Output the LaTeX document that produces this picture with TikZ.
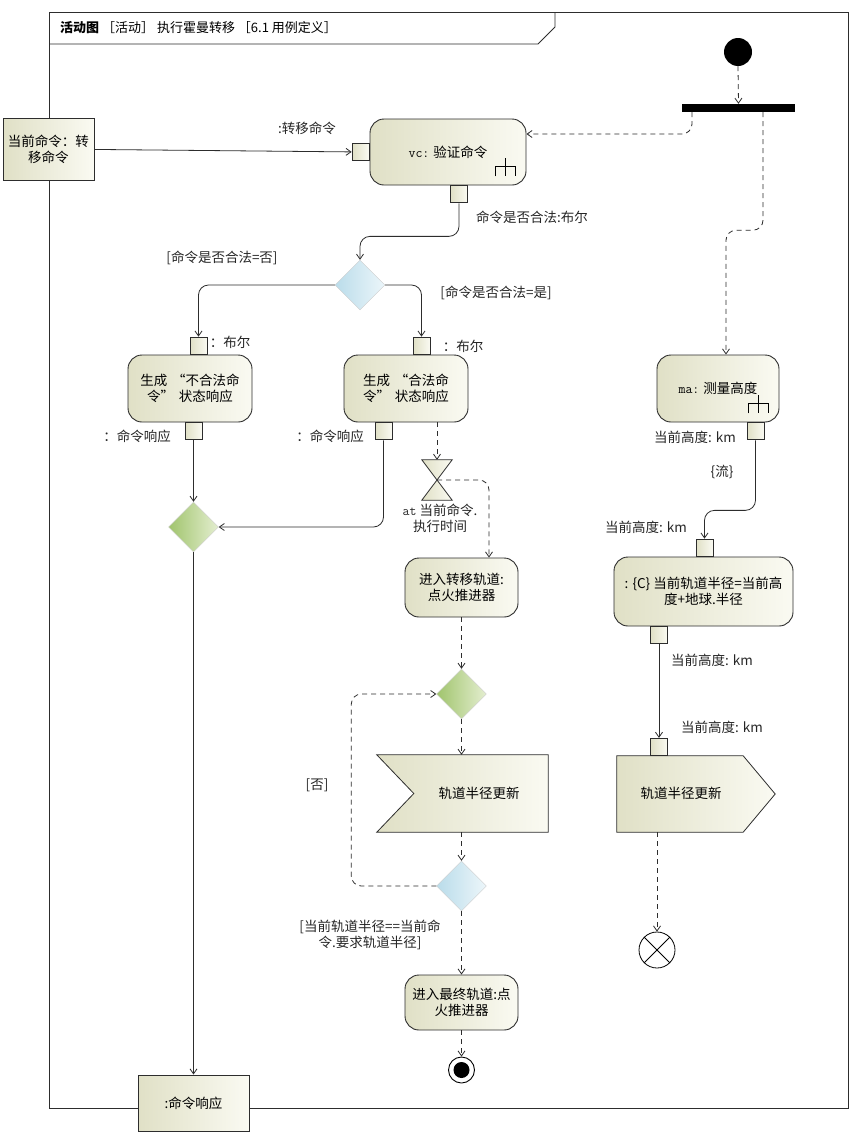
\documentclass[tikz,border=0pt]{standalone}
\usepackage{fontspec}
\setmainfont{Noto Sans CJK SC}
\usetikzlibrary{shapes.geometric, arrows.meta, positioning}
\definecolor{lineGray}{RGB}{45,45,45}
\definecolor{actDark}{RGB}{224,224,198}
\definecolor{actLight}{RGB}{250,250,242}
\definecolor{decDark}{RGB}{186,220,234}
\definecolor{decLight}{RGB}{236,246,250}
\definecolor{mrgDark}{RGB}{160,196,108}
\definecolor{mrgLight}{RGB}{228,238,208}
\tikzstyle{actBox} = [shape=rectangle, draw=lineGray, line width=0.9pt, align=center,
	rounded corners=14pt, left color=actDark, right color=actLight, inner sep=2pt]
\tikzstyle{paramBox} = [shape=rectangle, draw=lineGray, line width=0.9pt, align=center,
	left color=actDark, right color=actLight, inner sep=2pt]
\tikzstyle{pinBox} = [shape=rectangle, draw=lineGray, line width=0.9pt, inner sep=0pt,
	minimum size=17pt, left color=actDark, right color=actLight]
\tikzstyle{decBox} = [shape=diamond, draw=black!20, inner sep=0pt, minimum width=50pt,
	minimum height=50pt, left color=decDark, right color=decLight]
\tikzstyle{mrgBox} = [decBox, left color=mrgDark, right color=mrgLight]
\tikzstyle{normalArrow} = [line width=0.8pt, draw=lineGray, rounded corners=10pt,
	-{Straight Barb[length=5pt, width=7pt]}]
\tikzstyle{flowArrow} = [normalArrow, dash pattern=on 5pt off 4pt]
\tikzstyle{lbl} = [inner sep=1pt, align=center, text=black!85]
\newcommand{\rakeIn}[1]{%
  \draw [line width=0.8pt] ([shift={(-31,-9)}]#1.south east) -- ++(0,-10) -- ++(20,0) -- ++(0,10);
  \draw [line width=0.8pt] ([shift={(-21,-27)}]#1.south east) -- ++(0,18);}
\newcommand{\openQ}{\hspace{5pt}“}
\newcommand{\closeQ}{”\hspace{5pt}}

\begin{document}
\begin{tikzpicture}[x=1pt, y=-1pt, font=\fontsize{13.5}{16}\selectfont]
  \useasboundingbox [fill=white] (0,0) rectangle (853,1138);
  % frame and title tab
  \draw [line width=0.9pt, draw=lineGray] (49,12) rectangle (848,1108);
  \draw [line width=0.9pt, draw=lineGray] (49,44) -- (538,44) -- (555,27) -- (555,12);
  \node (title) [anchor=west, inner sep=0pt, font=\fontsize{13}{15}\selectfont] at (60,28) {\textbf{活动图} ［活动］ 执行霍曼转移 ［6.1 用例定义］};

  % parameters
  \node (curCmd) [paramBox, minimum width=91pt, minimum height=62pt] at (48.5,149) {当前命令：转\\移命令};
  \node (cmdResp) [paramBox, minimum width=111pt, minimum height=56pt] at (193.5,1103) {:命令响应};

  % validate command
  \node (vc) [actBox, minimum width=156pt, minimum height=66pt] at (448,152) {\texttt{vc:} 验证命令};
  \rakeIn{vc}
  \node (vcIn) [pinBox, left=0pt of vc] {};
  \node (vcOut) [pinBox, below=0pt of vc, xshift=11pt] {};
  \node (lblTrans) [lbl] at (307,128) {:转移命令};
  \node (lblValid) [lbl] at (532,217) {命令是否合法:布尔};

  \node (decValid) [decBox] at (360,285) {};
  \node (lblNo) [lbl] at (222,258) {[命令是否合法=否]};
  \node (lblYes) [lbl] at (496,293) {[命令是否合法=是]};

  % responses
  \node (genBad) [actBox, minimum width=124pt, minimum height=67pt] at (190,388.5) {生成\openQ 不合法命\\令\closeQ 状态响应};
  \node (genGood) [actBox, minimum width=124pt, minimum height=67pt] at (406,388.5) {生成\openQ 合法命\\令\closeQ 状态响应};
  \node (badIn) [pinBox, above=0pt of genBad, xshift=8.5pt] {};
  \node (goodIn) [pinBox, above=0pt of genGood, xshift=15.5pt] {};
  \node (badOut) [pinBox, below=0pt of genBad, xshift=3.5pt] {};
  \node (goodOut) [pinBox, below=0pt of genGood, xshift=-22.5pt] {};
  \node (lblBadIn) [lbl] at (230,342) {：布尔};
  \node (lblGoodIn) [lbl] at (463,346) {：布尔};
  \node (lblBadOut) [lbl] at (137,436) {：命令响应};
  \node (lblGoodOut) [lbl] at (330,436) {：命令响应};
  \node (mrgResp) [mrgBox] at (193.5,527) {};

  % transfer orbit
  \node (tmEvt) [minimum width=30pt, minimum height=40pt] at (437,480) {};
  \draw [line width=0.8pt, draw=lineGray, left color=actDark, right color=actLight]
    (tmEvt.north west) -- (tmEvt.north east) -- (tmEvt.south west) -- (tmEvt.south east) -- cycle;
  \node (lblTime) [lbl] at (440,518) {\texttt{at} 当前命令.\\执行时间};
  \node (fireTrans) [actBox, minimum width=113pt, minimum height=59pt] at (461.5,587.5) {进入转移轨道:\\点火推进器};
  \node (mrgLoop) [mrgBox] at (461.5,694) {};
  \node (acceptUpd) [minimum width=171pt, minimum height=77pt] at (462.5,793.5) {};
  \draw [line width=0.8pt, draw=lineGray, left color=actDark, right color=actLight]
    (acceptUpd.north west) -- (acceptUpd.north east) -- (acceptUpd.south east)
    -- (acceptUpd.south west) -- ([xshift=37pt]acceptUpd.west) -- cycle;
  \node (txtAccept) at (479,793) {轨道半径更新};
  \node (decRadius) [decBox] at (461.5,886) {};
  \node (lblLoopNo) [lbl] at (317,785) {[否]};
  \node (lblReached) [lbl] at (370,935) {[当前轨道半径==当前命\\令.要求轨道半径]};
  \node (fireFinal) [actBox, minimum width=113pt, minimum height=55pt] at (461.5,1002.5) {进入最终轨道:点\\火推进器};
  \node (actEnd) [circle, draw=black, line width=0.9pt, minimum size=26pt, inner sep=0pt] at (461.5,1070) {};
  \node (actEndDot) [circle, fill=black, minimum size=16pt, inner sep=0pt] at (actEnd) {};

  % altitude branch
  \node (init) [circle, fill=black, minimum size=28pt, inner sep=0pt] at (738,52) {};
  \node (forkBar) [rectangle, fill=black, minimum width=113pt, minimum height=8pt, inner sep=0pt] at (738.5,108) {};
  \node (measAlt) [actBox, minimum width=122pt, minimum height=67pt] at (718,388.5) {\texttt{ma:} 测量高度};
  \rakeIn{measAlt}
  \node (maOut) [pinBox, below=0pt of measAlt, xshift=37.5pt] {};
  \node (lblMaOut) [lbl] at (695,437) {当前高度: km};
  \node (lblStream) [lbl] at (722,472) {\{流\}};
  \node (calcR) [actBox, minimum width=179pt, minimum height=69pt] at (703.5,591.5) {: \{C\} 当前轨道半径=当前高\\度+地球.半径};
  \node (calcIn) [pinBox, above=0pt of calcR, xshift=1pt] {};
  \node (calcOut) [pinBox, below=0pt of calcR, xshift=-44.5pt] {};
  \node (lblCalcIn) [lbl] at (646,527) {当前高度: km};
  \node (lblCalcOut) [lbl] at (712,660) {当前高度: km};
  \node (sendUpd) [minimum width=158pt, minimum height=76pt] at (696,794) {};
  \draw [line width=0.8pt, draw=lineGray, left color=actDark, right color=actLight]
    (sendUpd.north west) -- ([xshift=-32pt]sendUpd.north east) -- (sendUpd.east)
    -- ([xshift=-32pt]sendUpd.south east) -- (sendUpd.south west) -- cycle;
  \node (txtSend) at (681,793) {轨道半径更新};
  \node (sendIn) [pinBox, above=0pt of sendUpd, xshift=-37pt] {};
  \node (lblSendIn) [lbl] at (722,727) {当前高度: km};
  \node (flowEnd) [circle, draw=black, line width=0.8pt, minimum size=36pt, inner sep=0pt] at (657,950) {};
  \draw [line width=0.8pt] (flowEnd.north west) -- (flowEnd.south east);
  \draw [line width=0.8pt] (flowEnd.north east) -- (flowEnd.south west);

  % object flows
  \draw [normalArrow] (curCmd) -- (vcIn);
  \draw [normalArrow] (vcOut.south) -- ++(0,33) -| (decValid.north);
  \draw [normalArrow] (decValid.west) -| (badIn.north);
  \draw [normalArrow] (decValid.east) -| (goodIn.north);
  \draw [normalArrow] (badOut.south) -- (mrgResp.north);
  \draw [normalArrow] (goodOut.south) |- (mrgResp.east);
  \draw [normalArrow] (mrgResp.south) -- (cmdResp.north);
  \draw [normalArrow] (maOut.south) -- ++(0,70) -| (calcIn.north);
  \draw [normalArrow] (calcOut.south) -- (sendIn.north);

  % control flows
  \draw [flowArrow] (init.south) -- (forkBar.north);
  \draw [flowArrow] ([xshift=-46.5pt]forkBar.south) |- ([yshift=18pt]vc.east);
  \draw [flowArrow] ([xshift=24.5pt]forkBar.south) -- ++(0,118) -| ([xshift=8pt]measAlt.north);
  \draw [flowArrow] (genGood.south -| tmEvt.north) -- (tmEvt.north);
  \draw [flowArrow] (tmEvt.center) -| ([xshift=27.5pt]fireTrans.north);
  \draw [flowArrow] (fireTrans.south) -- (mrgLoop.north);
  \draw [flowArrow] (mrgLoop.south) -- (acceptUpd.north -| mrgLoop.south);
  \draw [flowArrow] (acceptUpd.south -| decRadius.north) -- (decRadius.north);
  \draw [flowArrow] (decRadius.west) -- ++(-85,0) |- (mrgLoop.west);
  \draw [flowArrow] (decRadius.south) -- (fireFinal.north);
  \draw [flowArrow] (fireFinal.south) -- (actEnd.north);
  \draw [flowArrow] (sendUpd.south -| flowEnd.north) -- (flowEnd.north);
\end{tikzpicture}
\end{document}
